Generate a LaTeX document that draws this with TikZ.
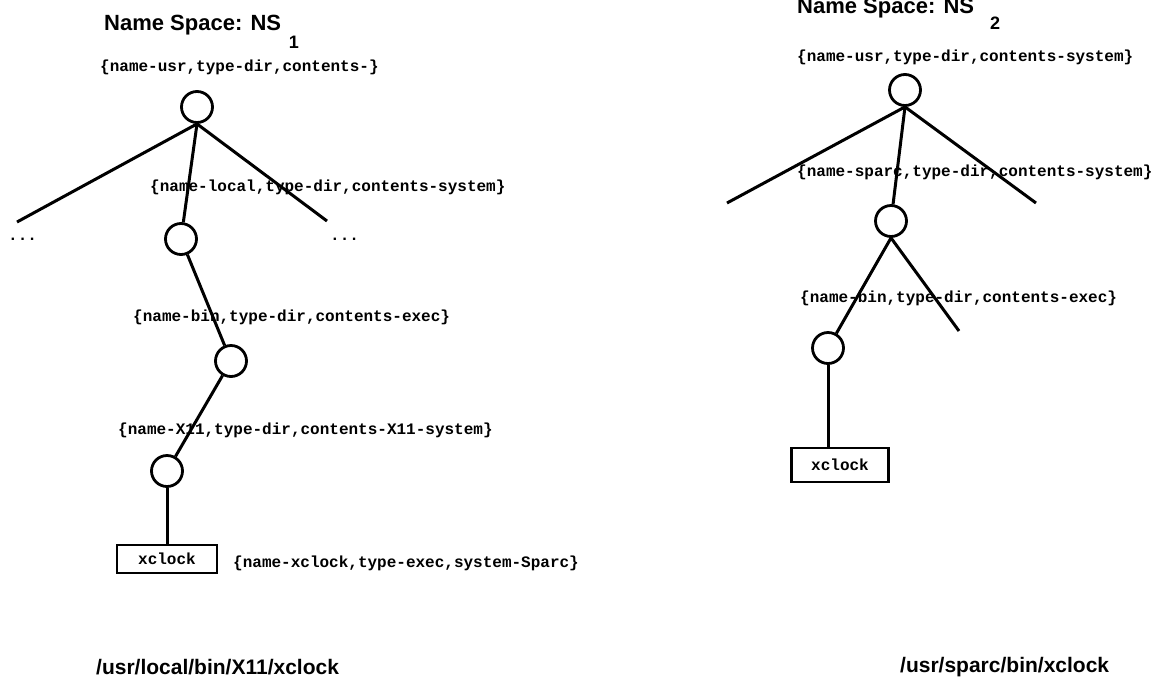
\documentclass[tikz,border=0pt]{standalone}
\usepackage{fontspec}
\setsansfont{Liberation Sans}
\setmonofont{Liberation Mono}
\usetikzlibrary{positioning}
\begin{document}
\begin{tikzpicture}[x=1pt,y=-1pt,
        dirnode/.style={draw, circle, line width=2.8pt, minimum size=31pt, inner sep=0pt},
        filebox/.style={draw, rectangle, line width=2.6pt, inner sep=0pt,
            font=\ttfamily\bfseries\fontsize{16}{18}\selectfont},
        attr/.style={anchor=west, inner sep=0pt,
            font=\ttfamily\bfseries\fontsize{16}{18}\selectfont},
        heading/.style={anchor=base west, inner sep=0pt,
            font=\sffamily\bfseries\fontsize{22}{26}\selectfont},
        index/.style={inner sep=0pt, font=\sffamily\bfseries\fontsize{18}{20}\selectfont},
        pathname/.style={anchor=west, inner sep=0pt,
            font=\sffamily\bfseries\fontsize{21}{25}\selectfont},
        branch/.style={line width=3pt}]
        \fill[white] (0,0) rectangle (1162,686);
        \useasboundingbox (0,0) rectangle (1162,686);
        %% Name space 1
        \node [heading] at (104,30) (T1) {Name Space: NS};
        \node [index] at (294,42) (I1) {1};
        \node [attr] at (100,67) (aU1) {\{name-usr,type-dir,contents-\}};
        \node [dirnode] at (197,107) (U1) {};
        \node [attr] at (150,187) (aL1) {\{name-local,type-dir,contents-system\}};
        \node [dirnode] at (181,239) (L1) {};
        \node [attr] at (8,239) (dl1) {...};
        \node [attr] at (330,239) (dr1) {...};
        \node [attr] at (133,317) (aB1) {\{name-bin,type-dir,contents-exec\}};
        \node [dirnode] at (231,361) (B1) {};
        \node [attr] at (118,430) (aX1) {\{name-X11,type-dir,contents-X11-system\}};
        \node [dirnode] at (167,471) (X1) {};
        \node [filebox, minimum width=100pt, minimum height=28pt] at (167,559) (C1) {xclock};
        \node [attr] at (233,563) (aC1) {\{name-xclock,type-exec,system-Sparc\}};
        \node [pathname] at (96,667) (P1) {/usr/local/bin/X11/xclock};
        \coordinate (l1) at (17,222);
        \coordinate (r1) at (327,221);
        %% Name space 2
        \node [heading] at (797,13) (T2) {Name Space: NS};
        \node [index] at (995,23) (I2) {2};
        \node [attr] at (797,57) (aU2) {\{name-usr,type-dir,contents-system\}};
        \node [dirnode] at (905,90) (U2) {};
        \node [attr] at (797,172) (aS2) {\{name-sparc,type-dir,contents-system\}};
        \node [dirnode] at (891,221) (S2) {};
        \node [attr] at (800,298) (aB2) {\{name-bin,type-dir,contents-exec\}};
        \node [dirnode] at (828,348) (B2) {};
        \node [filebox, minimum width=97pt, minimum height=34pt] at (840,465) (C2) {xclock};
        \node [pathname] at (900,667) (P2) {/usr/sparc/bin/xclock};
        \coordinate (l2) at (727,203);
        \coordinate (r2) at (1036,203);
        \coordinate (r3) at (959,331);
        %% Arcs
        \draw [branch] (U1.south) -- (l1);
        \draw [branch] (U1.south) -- (r1);
        \draw [branch] (U1.south) -- (L1);
        \draw [branch] (L1) -- (B1);
        \draw [branch] (B1) -- (X1);
        \draw [branch] (X1) -- (C1);
        \draw [branch] (U2.south) -- (l2);
        \draw [branch] (U2.south) -- (r2);
        \draw [branch] (U2.south) -- (S2);
        \draw [branch] (S2.south) -- (B2);
        \draw [branch] (S2.south) -- (r3);
        \draw [branch] (B2) -- (B2 |- C2.north);
    \end{tikzpicture}
\end{document}
